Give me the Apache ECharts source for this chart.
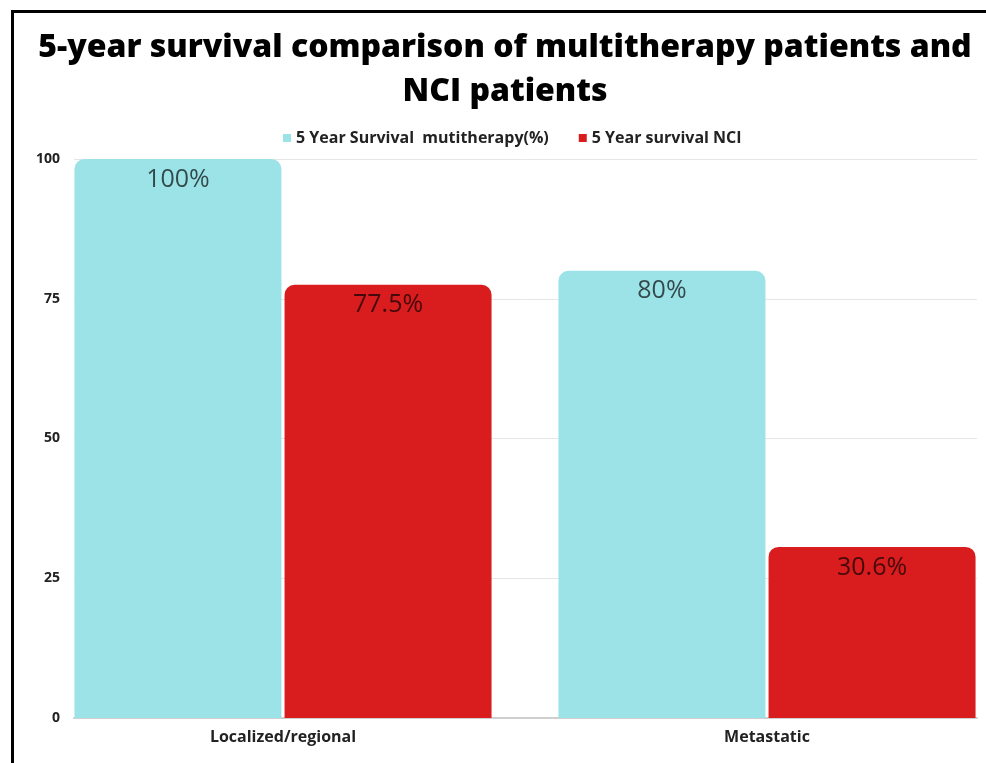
<!DOCTYPE html>
<html>
<head>
<meta charset="utf-8">
<script src="https://cdn.jsdelivr.net/npm/echarts@6/dist/echarts.min.js"></script>
<style>
  html, body { margin: 0; padding: 0; background: #fff; }
  #chart { width: 986px; height: 763px; }
</style>
</head>
<body>
<div id="chart"></div>
<script>
let categories = ['Localized/regional', 'Metastatic']
let seriesNames = ['5 Year Survival  mutitherapy(%)', '5 Year survival NCI']
let multitherapy = [100, 80]
let nci = [77.5, 30.6]
let yTicks = [0, 25, 50, 75, 100]
let titleText = '5-year survival comparison of multitherapy patients and\nNCI patients'

let font = '"Open Sans", sans-serif'
let myChart = echarts.init(document.getElementById('chart'))

let barLabel = {
  show: true,
  position: 'insideTop',
  distance: 8,
  fontSize: 25,
  fontFamily: font,
  color: 'rgba(0,0,0,0.68)',
  formatter: '{c}%'
}

let option = {
  backgroundColor: '#fff',
  animation: false,
  legend: {
    top: 125,
    left: 278,
    icon: 'rect',
    itemWidth: 8,
    itemHeight: 8,
    itemGap: 30,
    data: seriesNames,
    textStyle: {
      fontFamily: font,
      fontWeight: 'bold',
      fontSize: 16,
      color: '#222'
    }
  },
  graphic: [{
    type: 'text',
    x: 505,
    y: 26,
    silent: true,
    style: {
      text: titleText,
      align: 'center',
      font: '800 32px "Open Sans", sans-serif',
      lineHeight: 44,
      fill: '#000'
    }
  }, {
    type: 'rect',
    left: 10,
    top: 9,
    silent: true,
    shape: { width: 1000, height: 800 },
    style: { fill: 'none', stroke: '#000', lineWidth: 3 }
  }],
  grid: [
    { left: 41, width: 968, top: 159, bottom: 45, outerBoundsMode: 'none' },   // bars
    { left: 74, right: 9, top: 159, bottom: 45, outerBoundsMode: 'none' }      // gridlines + y labels
  ],
  xAxis: [{
    type: 'category',
    gridIndex: 0,
    data: categories,
    axisLine: { show: false },
    axisTick: { show: false },
    axisLabel: {
      margin: 11,
      fontFamily: font,
      fontWeight: 'bold',
      fontSize: 16,
      color: '#222'
    }
  }, {
    type: 'category',
    gridIndex: 1,
    data: categories,
    axisLine: { lineStyle: { color: '#cfcfcf', width: 2 } },
    axisTick: { show: false },
    axisLabel: { show: false }
  }],
  yAxis: [{
    type: 'value',
    gridIndex: 0,
    min: 0,
    max: 100,
    show: false
  }, {
    type: 'value',
    gridIndex: 1,
    min: yTicks[0],
    max: yTicks[yTicks.length - 1],
    interval: 25,
    axisLine: { show: false },
    axisTick: { show: false },
    splitLine: { lineStyle: { color: '#e6e6e6', width: 1 } },
    axisLabel: {
      margin: 14,
      fontFamily: font,
      fontWeight: 'bold',
      fontSize: 14,
      color: '#222'
    }
  }],
  series: [{
    name: seriesNames[0],
    type: 'bar',
    xAxisIndex: 0,
    yAxisIndex: 0,
    data: multitherapy,
    barWidth: 207,
    barGap: '1.5%',
    itemStyle: { color: '#9ce3e8', borderRadius: [10, 10, 0, 0] },
    label: barLabel
  }, {
    name: seriesNames[1],
    type: 'bar',
    xAxisIndex: 0,
    yAxisIndex: 0,
    data: nci,
    barWidth: 207,
    barGap: '1.5%',
    itemStyle: { color: '#d91c1e', borderRadius: [10, 10, 0, 0] },
    label: barLabel
  }]
}

myChart.setOption(option, true)

window.addEventListener('resize', function () {
  myChart.resize()
})
</script>
</body>
</html>
